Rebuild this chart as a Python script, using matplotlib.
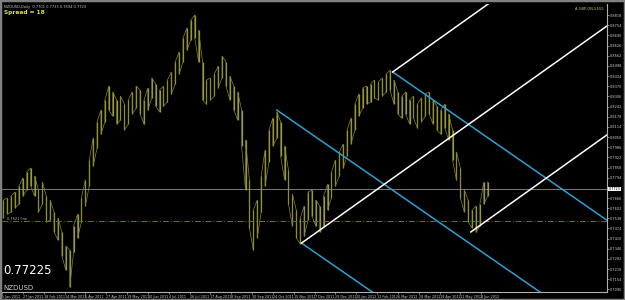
import numpy as np
import matplotlib.pyplot as plt

# Chart data (daily NZDUSD, bars grouped by 3 days: high / low)
symbol = "NZDUSD"
last_price = 0.77225
line_level = 0.7521
bars_per_group = 3
label_step = 16

date_labels = ["5 Jan 2011", "27 Jan 2011", "18 Feb 2011", "14 Mar 2011", "5 Apr 2011",
               "27 Apr 2011", "19 May 2011", "10 Jun 2011", "4 Jul 2011", "26 Jul 2011",
               "17 Aug 2011", "8 Sep 2011", "30 Sep 2011", "24 Oct 2011", "15 Nov 2011",
               "7 Dec 2011", "29 Dec 2011", "20 Jan 2012", "13 Feb 2012", "6 Mar 2012",
               "28 Mar 2012", "19 Apr 2012", "11 May 2012", "4 Jun 2012"]

highs = [0.7653, 0.7666, 0.7678, 0.7704, 0.7741, 0.7792, 0.7830, 0.7855, 0.7804, 0.7716,
         0.7767, 0.7678, 0.7653, 0.7578, 0.7540, 0.7452, 0.7363, 0.7338, 0.7489, 0.7565,
         0.7666, 0.7779, 0.7905, 0.8044, 0.8145, 0.8220, 0.8283, 0.8371, 0.8334, 0.8283,
         0.8308, 0.8258, 0.8283, 0.8334, 0.8371, 0.8346, 0.8283, 0.8359, 0.8422, 0.8384,
         0.8346, 0.8371, 0.8409, 0.8460, 0.8523, 0.8586, 0.8674, 0.8737, 0.8787, 0.8819,
         0.8724, 0.8523, 0.8409, 0.8422, 0.8447, 0.8497, 0.8560, 0.8523, 0.8434, 0.8371,
         0.8334, 0.8220, 0.8031, 0.7779, 0.7590, 0.7653, 0.7804, 0.7968, 0.8094, 0.8170,
         0.8208, 0.8145, 0.7993, 0.7842, 0.7691, 0.7590, 0.7540, 0.7615, 0.7704, 0.7716,
         0.7653, 0.7615, 0.7678, 0.7754, 0.7830, 0.7905, 0.7956, 0.8006, 0.8094, 0.8170,
         0.8258, 0.8321, 0.8359, 0.8371, 0.8384, 0.8409, 0.8397, 0.8422, 0.8447, 0.8472,
         0.8409, 0.8334, 0.8308, 0.8334, 0.8283, 0.8308, 0.8258, 0.8296, 0.8321, 0.8334,
         0.8283, 0.8245, 0.8220, 0.8258, 0.8195, 0.8094, 0.7956, 0.7855, 0.7716, 0.7653,
         0.7590, 0.7615, 0.7628, 0.7767, 0.7767]

lows = [0.7540, 0.7565, 0.7578, 0.7603, 0.7628, 0.7678, 0.7716, 0.7741, 0.7678, 0.7578,
        0.7628, 0.7515, 0.7527, 0.7452, 0.7401, 0.7300, 0.7212, 0.7105, 0.7326, 0.7414,
        0.7515, 0.7615, 0.7741, 0.7867, 0.7981, 0.8069, 0.8145, 0.8220, 0.8182, 0.8132,
        0.8157, 0.8094, 0.8132, 0.8195, 0.8233, 0.8195, 0.8132, 0.8220, 0.8296, 0.8245,
        0.8208, 0.8245, 0.8271, 0.8321, 0.8384, 0.8447, 0.8523, 0.8598, 0.8661, 0.8674,
        0.8523, 0.8283, 0.8258, 0.8283, 0.8308, 0.8359, 0.8422, 0.8371, 0.8283, 0.8220,
        0.8157, 0.7993, 0.7716, 0.7477, 0.7338, 0.7414, 0.7578, 0.7741, 0.7893, 0.7993,
        0.8044, 0.7930, 0.7779, 0.7628, 0.7489, 0.7414, 0.7376, 0.7426, 0.7527, 0.7552,
        0.7489, 0.7452, 0.7489, 0.7590, 0.7666, 0.7741, 0.7804, 0.7855, 0.7930, 0.8006,
        0.8094, 0.8182, 0.8233, 0.8258, 0.8271, 0.8296, 0.8283, 0.8308, 0.8334, 0.8346,
        0.8258, 0.8195, 0.8170, 0.8195, 0.8132, 0.8170, 0.8107, 0.8145, 0.8182, 0.8195,
        0.8132, 0.8094, 0.8069, 0.8107, 0.8031, 0.7905, 0.7779, 0.7666, 0.7578, 0.7515,
        0.7477, 0.7452, 0.7489, 0.7628, 0.7678]

# trend lines: (bar, price) start and end anchors
blue_lines = [((211, 0.8220), (466, 0.6774)),
              ((230, 0.7382), (466, 0.6044)),
              ((300, 0.8460), (466, 0.7518))]
white_lines = [((300, 0.8460), (466, 0.9429)),
               ((230, 0.7382), (466, 0.8758)),
               ((360, 0.7452), (466, 0.8072))]

x = np.arange(len(highs)) * bars_per_group + 1

fig = plt.figure(figsize=(6.25, 3), dpi=100, facecolor='black')
ax = fig.add_axes([2 / 625, 8 / 300, 605 / 625, 288 / 300])
ax.set_facecolor('black')

# price bars: high-low sticks plus a zigzag through them so the band looks dense
ax.vlines(x, lows, highs, color='#9c9c3e', lw=0.9)
zx = np.repeat(x, 2)
zy = np.column_stack([lows, highs]).ravel()
zy[2::4], zy[3::4] = zy[3::4].copy(), zy[2::4].copy()
ax.plot(zx, zy, color='#868630', lw=0.5)

ax.axhline(last_price, color='#8c8c8c', lw=0.6)
ax.axhline(line_level, color='#a0522d', lw=0.7, ls=(0, (6, 2, 1, 2)))

for (x0, y0), (x1, y1) in blue_lines:
    ax.plot([x0, x1], [y0, y1], color='#2e9fd0', lw=1.1)
for (x0, y0), (x1, y1) in white_lines:
    ax.plot([x0, x1], [y0, y1], color='white', lw=1.1)

ax.set_xlim(0.7, 464.6)
ax.set_ylim(0.7074, 0.8888)

# axes styling, MetaTrader look
for side in ['top', 'left']:
    ax.spines[side].set_visible(False)
for side in ['bottom', 'right']:
    ax.spines[side].set_color('#b0b0b0')
    ax.spines[side].set_linewidth(0.8)

ax.set_xticks(np.arange(len(date_labels)) * label_step)
ax.set_xticklabels(date_labels, fontsize=2.4, color='#d0d0d0', ha='left')
ax.tick_params(axis='x', length=1.5, width=0.5, color='#b0b0b0', pad=0.8)

# price scale; the label under the current-price box is left out
yticks = np.arange(0.7090, 0.8880, 0.0064)
yticks = yticks[np.abs(yticks - last_price) > 0.003]
ax.yaxis.tick_right()
ax.set_yticks(yticks)
ax.set_yticklabels([f"{v:.4f}" for v in yticks], fontsize=2.5, color='#d0d0d0')
ax.tick_params(axis='y', length=1.5, width=0.5, color='#b0b0b0', pad=0.8)

# texts
ax.text(0.003, 0.997, "NZDUSD,Daily  0.7701 0.7733 0.7694 0.7723", transform=ax.transAxes,
        fontsize=2.6, color='#c8c8c8', va='top')
ax.text(0.003, 0.979, "Spread = 18", transform=ax.transAxes, fontsize=4.2,
        color='#e0e030', fontweight='bold', va='top')
ax.text(0.995, 0.988, "A GBP-ON-5555", transform=ax.transAxes, fontsize=2.6,
        color='#c8c850', va='top', ha='right')
ax.text(0.002, 0.075, "0.77225", transform=ax.transAxes, fontsize=8.5, color='white', va='center')
ax.text(0.002, 0.005, symbol, transform=ax.transAxes, fontsize=5, color='#d0d0d0', va='bottom')
ax.text(486, last_price, "17:48:56", fontsize=2.5, color='#c0c0c0', va='center')
ax.text(4, line_level, "0.7521 line", fontsize=2.5, color='#c0c0c0', va='bottom')
ax.text(1.003, last_price, "0.7723", transform=ax.get_yaxis_transform(), fontsize=2.4,
        color='black', va='center', ha='left', clip_on=False, zorder=5,
        bbox=dict(facecolor='white', edgecolor='none', pad=0.3))

# grey window border
fig.patches.append(plt.Rectangle((0, 0), 1, 1, transform=fig.transFigure, fill=False,
                                 edgecolor='#808080', lw=2.5))

fig.savefig('out.png', dpi=100, facecolor='black')
